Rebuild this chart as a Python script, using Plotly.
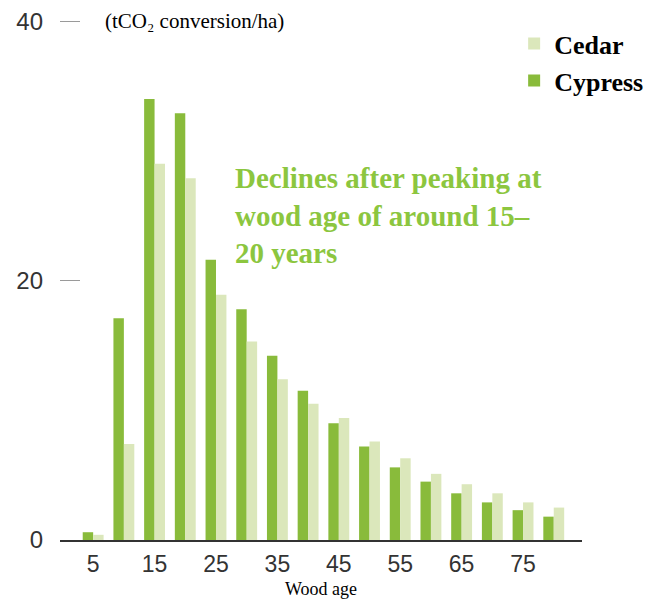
import plotly.graph_objects as go

# Datos: absorción de CO2 por edad del bosque (tCO2/ha)
ages = [5, 10, 15, 20, 25, 30, 35, 40, 45, 50, 55, 60, 65, 70, 75, 80]
cypress = [0.6, 17.1, 34.0, 32.9, 21.6, 17.8, 14.2, 11.5, 9.0, 7.2, 5.6, 4.5, 3.6, 2.9, 2.3, 1.8]
cedar = [0.4, 7.4, 29.0, 27.9, 18.9, 15.3, 12.4, 10.5, 9.4, 7.6, 6.3, 5.1, 4.3, 3.6, 2.9, 2.5]
tick_ages = [5, 15, 25, 35, 45, 55, 65, 75]
y_ticks = [0, 20, 40]

COLORS = {
    "cypress": "#89bb3b",
    "cedar": "#dbe7bb",
    "accent": "#8cc63f",
    "text": "#222222",
    "tick": "#9a9a9a",
}
SERIF = "Liberation Serif, Times New Roman, serif"
SANS = "Liberation Sans, Arial, sans-serif"

fig = go.Figure()
fig.add_trace(go.Bar(
    name="<b>Cypress</b>", x=ages, y=cypress,
    marker=dict(color=COLORS["cypress"], line=dict(width=0)),
))
fig.add_trace(go.Bar(
    name="<b>Cedar</b>", x=ages, y=cedar,
    marker=dict(color=COLORS["cedar"], line=dict(width=0)),
))

# la página tiene 8px de margen en el body: se compensa en los márgenes
fig.update_layout(
    width=664, height=600,
    margin=dict(l=52, r=90, t=8, b=68, autoexpand=False),
    paper_bgcolor="white", plot_bgcolor="white",
    barmode="group", bargap=0.32, bargroupgap=0,
    font=dict(family=SANS, color=COLORS["text"]),
    legend=dict(
        x=0.87, y=0.992, xanchor="left", yanchor="top",
        traceorder="reversed", bgcolor="rgba(0,0,0,0)",
        font=dict(family=SERIF, size=26, color="black"),
        itemwidth=30, tracegroupgap=0,
    ),
    showlegend=True,
)

fig.update_xaxes(
    range=[-0.4, 84.6], automargin=False,
    tickmode="array", tickvals=tick_ages, ticktext=[str(a) for a in tick_ages],
    ticks="outside", ticklen=3, tickcolor="rgba(0,0,0,0)",
    tickfont=dict(family=SANS, size=23, color="#333333"),
    showline=True, linecolor="#333333", linewidth=1.5,
    showgrid=False, zeroline=False,
)
fig.update_yaxes(
    range=[0, 40.4], automargin=False,
    tickmode="array", tickvals=y_ticks,
    ticks="inside", ticklen=20, tickwidth=1, tickcolor=COLORS["tick"],
    ticklabelstandoff=16, ticklabeloverflow="allow",
    tickfont=dict(family=SANS, size=24, color="#333333"),
    showline=False, showgrid=False, zeroline=False,
)

fig.add_annotation(
    xref="paper", yref="paper", x=0.082, y=0.99,
    xanchor="left", yanchor="middle", showarrow=False,
    text="(tCO₂ conversion/ha)",
    font=dict(family=SERIF, size=21, color="black"),
)
fig.add_annotation(
    xref="paper", yref="paper", x=0.331, y=0.619,
    xanchor="left", yanchor="middle", align="left", showarrow=False,
    text="<b>Declines after peaking at<br>wood age of around 15–<br>20 years</b>",
    font=dict(family=SERIF, size=29, color=COLORS["accent"]),
)
fig.add_annotation(
    xref="paper", yref="paper", x=0.5, y=-0.094,
    xanchor="center", yanchor="middle", showarrow=False,
    text="Wood age",
    font=dict(family=SERIF, size=18, color="black"),
)

fig.write_html("out.html")
